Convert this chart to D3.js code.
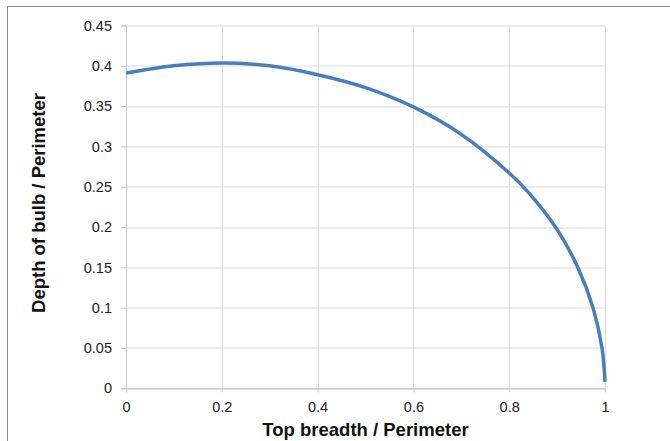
<!DOCTYPE html>
<html>
<head>
<meta charset="utf-8">
<script src="https://cdn.jsdelivr.net/npm/d3@7"></script>
<style>
  body { margin: 0; background: #fff; }
  svg { display: block; font-family: "Liberation Sans", Arial, sans-serif; }
</style>
</head>
<body>
<div id="chart"></div>
<script>
// Curve: top breadth / perimeter vs depth of bulb / perimeter
var breadth = [0, 0.1, 0.2, 0.3, 0.4, 0.5, 0.6, 0.7, 0.8, 0.84, 0.9, 0.944, 0.975, 0.994, 1.0];
var depth = [0.391, 0.4, 0.4035, 0.4, 0.389, 0.373, 0.349, 0.315, 0.267, 0.243, 0.197, 0.149, 0.1, 0.049, 0.008];

var xTicks = [0, 0.2, 0.4, 0.6, 0.8, 1];
var yTicks = [0, 0.05, 0.1, 0.15, 0.2, 0.25, 0.3, 0.35, 0.4, 0.45];

var svgWidth = 670;
var svgHeight = 441;

var margin = { top: 25.5, right: 65, bottom: 53, left: 126 };
var chartWidth = 605 - margin.left;
var chartHeight = 388.3 - margin.top;

var svg = d3.select("#chart")
  .append("svg")
  .attr("width", svgWidth)
  .attr("height", svgHeight);

// outer frame
svg.append("rect")
  .attr("x", 7.5)
  .attr("y", 6.5)
  .attr("width", 700)
  .attr("height", 500)
  .attr("fill", "none")
  .attr("stroke", "#8c8c8c");

var chartGroup = svg.append("g")
  .attr("transform", `translate(${margin.left}, ${margin.top})`);

var xScale = d3.scaleLinear().domain([0, 1]).range([0, chartWidth]);
var yScale = d3.scaleLinear().domain([0, 0.45]).range([chartHeight, 0]);

// gridlines
chartGroup.append("g")
  .selectAll("line.h")
  .data(yTicks)
  .join("line")
  .attr("x1", 0)
  .attr("x2", chartWidth)
  .attr("y1", d => Math.round(yScale(d)) + 0.5)
  .attr("y2", d => Math.round(yScale(d)) + 0.5)
  .attr("stroke", "#d9d9d9");

chartGroup.append("g")
  .selectAll("line.v")
  .data(xTicks)
  .join("line")
  .attr("x1", d => Math.round(xScale(d)) + 0.5)
  .attr("x2", d => Math.round(xScale(d)) + 0.5)
  .attr("y1", 0)
  .attr("y2", chartHeight)
  .attr("stroke", "#d9d9d9");

// axes
var bottomAxis = d3.axisBottom(xScale)
  .tickValues(xTicks)
  .tickSize(4)
  .tickPadding(9)
  .tickFormat(d3.format("~g"));

var leftAxis = d3.axisLeft(yScale)
  .tickValues(yTicks)
  .tickSize(5)
  .tickPadding(9)
  .tickFormat(d3.format("~g"));

var xAxisG = chartGroup.append("g")
  .attr("transform", `translate(0, ${chartHeight})`)
  .call(bottomAxis);

var yAxisG = chartGroup.append("g")
  .call(leftAxis);

[xAxisG, yAxisG].forEach(function(g) {
  g.select(".domain").attr("stroke", "#c4c4c4");
  g.selectAll(".tick line").attr("stroke", "#c4c4c4");
  g.selectAll(".tick text")
    .attr("fill", "#222")
    .style("font-size", "14.5px")
    .style("font-family", "'Liberation Sans', Arial, sans-serif");
});

// the curve
var points = breadth.map((b, i) => ({ x: b, y: depth[i] }));

var drawLine = d3.line()
  .x(d => xScale(d.x))
  .y(d => yScale(d.y))
  .curve(d3.curveCatmullRom.alpha(0.5));

chartGroup.append("path")
  .datum(points)
  .attr("d", drawLine)
  .attr("fill", "none")
  .attr("stroke", "#4a7ebb")
  .attr("stroke-width", 3.5)
  .attr("stroke-linecap", "butt");

// axis titles
svg.append("text")
  .attr("x", margin.left + chartWidth / 2)
  .attr("y", 436)
  .attr("text-anchor", "middle")
  .style("font-size", "18.5px")
  .style("font-weight", "bold")
  .attr("fill", "#111")
  .text("Top breadth / Perimeter");

svg.append("text")
  .attr("transform", `translate(45, 203) rotate(-90)`)
  .attr("text-anchor", "middle")
  .style("font-size", "18.5px")
  .style("font-weight", "bold")
  .attr("fill", "#111")
  .text("Depth of bulb / Perimeter");
</script>
</body>
</html>
